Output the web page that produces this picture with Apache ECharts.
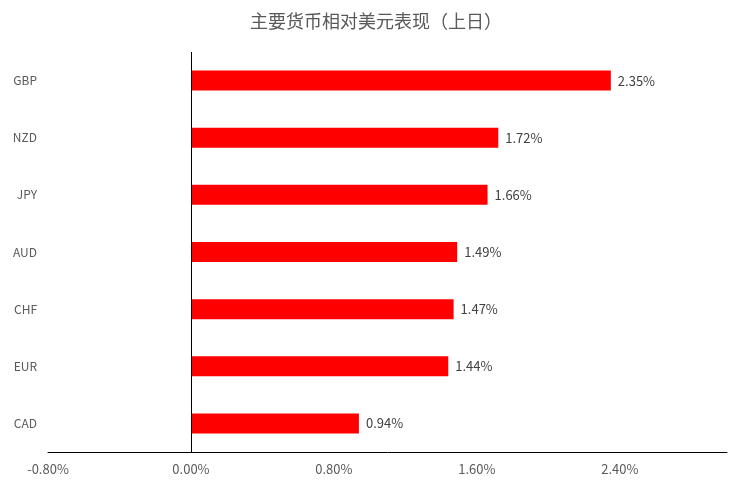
<!DOCTYPE html>
<html><head><meta charset="utf-8">
<script src="https://cdn.jsdelivr.net/npm/echarts@6/dist/echarts.min.js"></script>
<style>html,body{margin:0;padding:0;background:#fff}#c{width:752px;height:491px}</style>
</head><body><div id="c"></div>
<script>
var categories = ['GBP','NZD','JPY','AUD','CHF','EUR','CAD'];
var values = [2.35,1.72,1.66,1.49,1.47,1.44,0.94];
var titleText = '主要货币相对美元表现（上日）';
var chart = echarts.init(document.getElementById('c'));
var font = '"Noto Sans CJK SC","Noto Sans",sans-serif';
chart.setOption({
  animation:false,
  title:{text:titleText,left:'center',top:7,textStyle:{color:'#595959',fontSize:18,fontWeight:'normal',fontFamily:font}},
  grid:{left:48,right:25,top:52,bottom:39},
  xAxis:{type:'value',min:-0.8,max:3.0,interval:0.8,
    axisLine:{show:true,onZero:false,lineStyle:{color:'#000',width:1}},
    axisTick:{show:false},splitLine:{show:false},
    axisLabel:{showMaxLabel:false,margin:11,color:'#595959',fontSize:13,fontFamily:font,
      formatter:function(v){return v.toFixed(2)+'%';}}},
  yAxis:{type:'category',data:categories,inverse:true,
    axisLine:{show:false,onZero:false},axisTick:{show:false},
    axisLabel:{margin:11,color:'#595959',fontSize:12,fontFamily:font}},
  series:[{type:'bar',data:values,barWidth:20,barCategoryGap:'65%',itemStyle:{color:'#ff0000'},
    label:{show:true,position:'right',distance:7,color:'#404040',fontSize:13,fontFamily:font,
      formatter:function(p){return p.value.toFixed(2)+'%';}},
    markLine:{silent:true,symbol:'none',label:{show:false},
      lineStyle:{color:'#000',width:1,type:'solid'},data:[{xAxis:0}]}}]
});
</script></body></html>
